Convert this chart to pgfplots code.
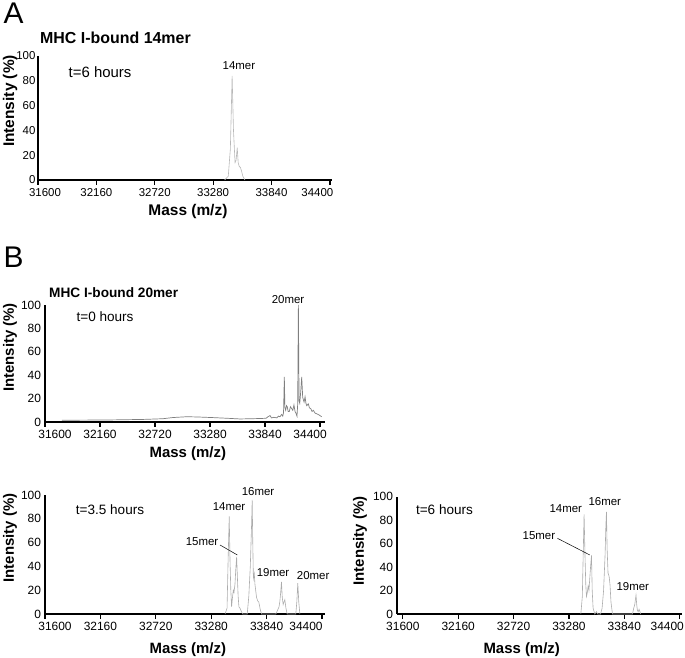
\documentclass[border=0pt]{standalone}
\usepackage{pgfplots}
\pgfplotsset{compat=1.18}
\usepackage{fontspec}
\setmainfont{Liberation Sans}
\definecolor{specA}{HTML}{B8B8B8}
\definecolor{specB}{HTML}{7F7F7F}
\definecolor{specC}{HTML}{ACACAC}
\pgfplotsset{
 spec/.style={
  scale only axis, anchor=south west, clip=false,
  axis lines=left, axis line style={-, line width=1.2bp, black},
  ymin=0, ymax=100, ytick={0,20,40,60,80,100},
  yticklabels={0,20,40,60,80,100},
  xtick={31600,32160,32720,33280,33840,34400},
  scaled x ticks=false,
  tick align=outside, major tick length=5bp,
  xtick style={line width=1.2bp, black},
  ytick style={draw=none},
  /pgf/number format/assume math mode=true,
  xlabel={Mass (m/z)}, ylabel={Intensity (\%)},
  label style={font=\bfseries\fontsize{15}{17}\selectfont},
  tick label style={font=\fontsize{12}{14}\selectfont, black},
  yticklabel style={xshift=4.5bp},
  xlabel style={anchor=center},
  ylabel style={anchor=center},
 },
}
\tikzset{mer/.style={font=\fontsize{11.5}{13}\selectfont, inner sep=0pt}}
\begin{document}
\begin{tikzpicture}
\useasboundingbox (0,0) rectangle (685bp,658bp);
\node[font=\fontsize{30}{32}\selectfont, inner sep=0pt] at (13.5bp,644.3bp) {A};
\node[font=\fontsize{30}{32}\selectfont, inner sep=0pt] at (13.5bp,401bp) {B};

% ---------- Panel A ----------
\begin{axis}[spec, at={(38bp,478bp)}, width=294bp, height=124bp,
  xmin=31600, xmax=34420,
  xticklabels={31600\hspace*{-14bp},32160,32720,33280,33840,\hspace*{-25bp}34400},
  tick label style={font=\fontsize{11.5}{13}\selectfont},
  yticklabel style={xshift=1.5bp},
  label style={font=\bfseries\fontsize{15.5}{17}\selectfont},
  xlabel style={at={(axis description cs:0.51,-0.258)}},
  ylabel style={at={(axis description cs:-0.095,0.637)}}]
\addplot[specA, line width=0.6bp] coordinates {
(33390,0) (33425,3) (33445,25) (33462,84) (33475,40) (33490,14) (33500,16)
(33511,26) (33520,14) (33530,11) (33542,10) (33553,7) (33565,3) (33585,0)};
\node[anchor=west, inner sep=0pt, font=\bfseries\fontsize{16}{18}\selectfont] at (axis cs:31619,114.5) {MHC I-bound 14mer};
\node[inner sep=0pt, font=\fontsize{15}{17}\selectfont] at (axis cs:32195,87) {t=6 hours};
\node[mer] at (axis cs:33527,92) {14mer};
\end{axis}

% ---------- Panel B top ----------
\begin{axis}[spec, at={(45bp,236bp)}, width=280bp, height=117bp,
  xmin=31600, xmax=34450,
  xticklabels={31600\hspace*{-20bp},32160,32720,33280,33840,\hspace*{-20bp}34400},
  xlabel style={at={(axis description cs:0.51,-0.274)}},
  ylabel style={at={(axis description cs:-0.125,0.637)}}]
\addplot[specB, line width=0.7bp] coordinates {
(31773,1.5) (32000,1.6) (32300,1.8) (32600,2.2) (32800,2.8) (32900,3.8) (33000,4.3)
(33043,4.5) (33150,4.3) (33300,3.8) (33450,3.2) (33585,2.6) (33700,2.8) (33800,3)
(33850,3.2) (33870,4.5) (33891,5.5) (33905,3.5) (33930,4) (33960,3.5) (33975,5)
(33992,4.5) (34009,6.5) (34020,5) (34028,8) (34036,38.5) (34042,12) (34050,10)
(34058,14) (34066,13) (34075,9) (34087,9) (34098,13) (34111,11.5) (34122,10)
(34134,14.5) (34145,9) (34155,7.5) (34165,5) (34172,15) (34179,100) (34186,18)
(34193,16) (34203,26) (34213,38.5) (34223,21) (34237,17) (34247,21.5) (34256,16)
(34264,14) (34280,15.5) (34292,12) (34305,11.5) (34318,9) (34331,10) (34350,7.5)
(34366,7) (34390,6) (34416,4.5)};
\node[anchor=west, inner sep=0pt, font=\bfseries\fontsize{13.7}{16}\selectfont] at (axis cs:31641,110.3) {MHC I-bound 20mer};
\node[inner sep=0pt, font=\fontsize{13.6}{16}\selectfont] at (axis cs:32211,89.7) {t=0 hours};
\node[mer] at (axis cs:34074,105) {20mer};
\end{axis}

% ---------- Panel B bottom left ----------
\begin{axis}[spec, at={(45bp,44bp)}, width=280bp, height=119bp,
  xmin=31600, xmax=34430,
  xticklabels={31600\hspace*{-20bp},32160,32720,33280,33840,\hspace*{-32bp}34400},
  xlabel style={at={(axis description cs:0.51,-0.30)}},
  ylabel style={at={(axis description cs:-0.125,0.639)}}]
\addplot[specC, line width=0.6bp] coordinates {
(33420,0) (33440,5) (33452,50) (33462,82) (33470,45) (33478,20) (33486,6) (33495,14)
(33503,20) (33510,18) (33520,25) (33530,40) (33537,48) (33545,30) (33552,15) (33560,6)
(33570,5) (33580,3) (33597,0) (33644,0) (33660,15) (33675,40) (33688,75) (33694,96)
(33700,60) (33706,30) (33715,34) (33722,25) (33738,14) (33750,11) (33761,10) (33775,4)
(33788,0) (33933,0) (33950,3) (33965,6) (33973,10) (33982,18) (33990,27) (33998,14)
(34007,8) (34015,10) (34024,12) (34035,5) (34047,0) (34135,0) (34145,10) (34155,26)
(34165,10) (34176,0)};
\node[inner sep=0pt, font=\fontsize{13.6}{16}\selectfont] at (axis cs:32257,87.4) {t=3.5 hours};
\node[mer] at (axis cs:33460,90) {14mer};
\node[mer] at (axis cs:33753,102.5) {16mer};
\node[mer] at (axis cs:33187,60.5) {15mer};
\draw[black, line width=0.5bp] (axis cs:33369,58) -- (axis cs:33544,49.6);
\node[mer] at (axis cs:33905,34.5) {19mer};
\node[mer] at (axis cs:34310,32) {20mer};
\end{axis}

% ---------- Panel B bottom right ----------
\begin{axis}[spec, at={(397bp,44bp)}, width=284.7bp, height=117.3bp,
  xmin=31541, xmax=34420,
  xticklabels={31600,32160,32720,33280,33840,\hspace*{-25bp}34400},
  xlabel style={at={(axis description cs:0.438,-0.307)}},
  ylabel style={at={(axis description cs:-0.13,0.622)}}]
\addplot[specC, line width=0.6bp] coordinates {
(33400,0) (33415,15) (33425,55) (33433,85) (33442,50) (33450,25) (33457,15) (33465,18)
(33474,24) (33482,20) (33490,30) (33500,42) (33508,50) (33515,20) (33524,5) (33541,0)
(33550,1) (33558,2) (33570,0) (33600,0) (33615,5) (33630,20) (33645,50) (33653,75)
(33659,87) (33666,55) (33675,35) (33686,32) (33695,25) (33705,10) (33720,0) (33922,0)
(33935,5) (33945,8) (33958,16) (33965,8) (33972,3) (33980,2) (33989,4) (33998,2) (34006,0)};
\node[inner sep=0pt, font=\fontsize{13.6}{16}\selectfont] at (axis cs:32021,88.7) {t=6 hours};
\node[mer] at (axis cs:33248,89.5) {14mer};
\node[mer] at (axis cs:33642,95.5) {16mer};
\node[mer] at (axis cs:32976,66.5) {15mer};
\draw[black, line width=0.5bp] (axis cs:33164,64.5) -- (axis cs:33491,50.3);
\node[mer] at (axis cs:33925,23) {19mer};
\end{axis}
\end{tikzpicture}
\end{document}
